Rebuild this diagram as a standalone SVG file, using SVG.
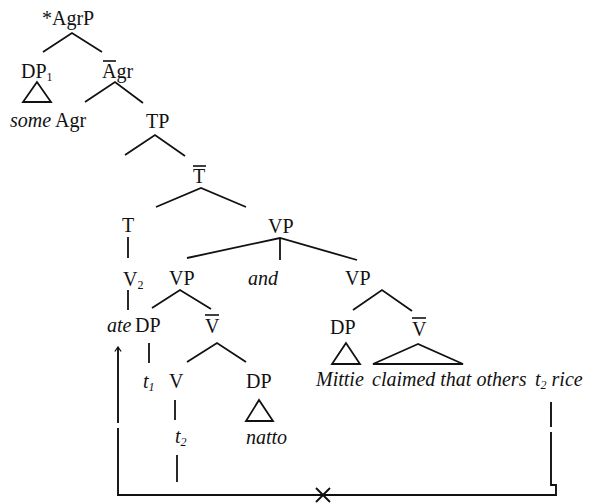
<svg xmlns="http://www.w3.org/2000/svg" width="597" height="504" viewBox="0 0 597 504">
  <style>
    text { font-family: "Liberation Serif", "Times New Roman", serif; font-size: 20px; fill: #111; }
    .it { font-style: italic; }
    .sub { font-size: 12px; }
    .edge, .bar, .tri { stroke: #111; stroke-width: 1.8; fill: none; stroke-linecap: butt; }
    .bar { stroke-width: 1.6; }
    .move { stroke: #111; stroke-width: 1.9; fill: none; }
  </style>
  <defs>
    <!-- open arrowhead drawn along +x so orient="auto" points it along the path -->
    <marker id="head" viewBox="0 0 10 10" refX="9" refY="5" markerWidth="9" markerHeight="9" orient="auto" markerUnits="userSpaceOnUse">
      <path d="M4,1.5 L9,5 L4,8.5" stroke="#111" stroke-width="1.4" fill="none"/>
    </marker>
  </defs>
  <rect width="597" height="504" fill="#fff"/>

  <!-- tree nodes -->
  <g id="agrp"><text x="42" y="25">*AgrP</text></g>
  <g id="dp1"><text x="21" y="78">DP<tspan class="sub" dy="3">1</tspan></text>
    <path class="tri" d="M37,82 L23,102 L51,102 Z"/></g>
  <g id="agr-bar"><text x="102" y="78">Agr</text><line class="bar" x1="103" y1="61" x2="116" y2="61"/></g>
  <g id="some"><text class="it" x="10" y="127">some</text></g>
  <g id="agr"><text x="55" y="127">Agr</text></g>
  <g id="tp"><text x="146" y="128">TP</text></g>
  <g id="t-bar"><text x="193" y="183">T</text><line class="bar" x1="193" y1="166" x2="206" y2="166"/></g>
  <g id="t"><text x="122" y="232">T</text></g>
  <g id="vp-top"><text x="268" y="233">VP</text></g>
  <g id="v2"><text x="123" y="286">V<tspan class="sub" dy="3">2</tspan></text></g>
  <g id="vp-left"><text x="169" y="285">VP</text></g>
  <g id="and"><text class="it" x="248" y="285">and</text></g>
  <g id="vp-right"><text x="345" y="285">VP</text></g>
  <g id="ate"><text class="it" x="107" y="332">ate</text></g>
  <g id="dp-subj"><text x="135" y="332">DP</text></g>
  <g id="v-bar-left"><text x="205" y="333">V</text><line class="bar" x1="205" y1="315" x2="219" y2="315"/></g>
  <g id="dp-mittie"><text x="330" y="334">DP</text>
    <path class="tri" d="M346,343 L332,364 L360,364 Z"/></g>
  <g id="v-bar-right"><text x="412" y="336">V</text><line class="bar" x1="412" y1="318" x2="426" y2="318"/>
    <path class="tri" d="M418,344 L373,364 L463,364 Z"/></g>
  <g id="t1"><text class="it" x="143" y="388">t<tspan class="sub" dy="3">1</tspan></text></g>
  <g id="v"><text x="169" y="388">V</text></g>
  <g id="dp-natto"><text x="246" y="388">DP</text>
    <path class="tri" d="M259,400 L246,421 L273,421 Z"/></g>
  <g id="mittie"><text class="it" x="316" y="386">Mittie</text></g>
  <g id="claimed"><text class="it" x="372" y="386">claimed that others</text></g>
  <g id="t2-rice"><text class="it" x="535" y="386">t<tspan class="sub" dy="3">2</tspan><tspan dy="-3"> rice</tspan></text></g>
  <g id="t2"><text class="it" x="175" y="443">t<tspan class="sub" dy="3">2</tspan></text></g>
  <g id="natto"><text class="it" x="246" y="444">natto</text></g>

  <!-- branches and movement paths -->
  <g id="connectors">
    <path class="edge" d="M43,52 L72,33 L102,52"/>
    <path class="edge" d="M85,102 L115,82 L143,103"/>
    <path class="edge" d="M125,155 L155,135 L185,156"/>
    <path class="edge" d="M156,207 L201,188 L246,207"/>
    <line class="edge" x1="128" y1="237" x2="128" y2="258"/>
    <path class="edge" d="M187,258 L280,238 L357,260"/>
    <line class="edge" x1="280" y1="238" x2="280" y2="260"/>
    <line class="edge" x1="128" y1="290" x2="128" y2="310"/>
    <path class="edge" d="M152,308 L180,290 L211,309"/>
    <path class="edge" d="M353,310 L382,290 L412,311"/>
    <line class="edge" x1="149" y1="343" x2="149" y2="363"/>
    <path class="edge" d="M187,362 L217,343 L246,362"/>
    <line class="edge" x1="175" y1="400" x2="175" y2="420"/>
    <line class="edge" x1="177" y1="455" x2="177" y2="482"/>
    <!-- blocked head movement -->
    <path class="move" d="M118,423 L118,347" marker-end="url(#head)"/>
    <path class="move" d="M118,428 L118,495 L556,495 L556,485 L551,485 L551,432"/>
    <line class="move" x1="551" y1="427" x2="551" y2="402"/>
    <path class="move" d="M316,488 L330,502 M330,488 L316,502"/>
  </g>
</svg>
